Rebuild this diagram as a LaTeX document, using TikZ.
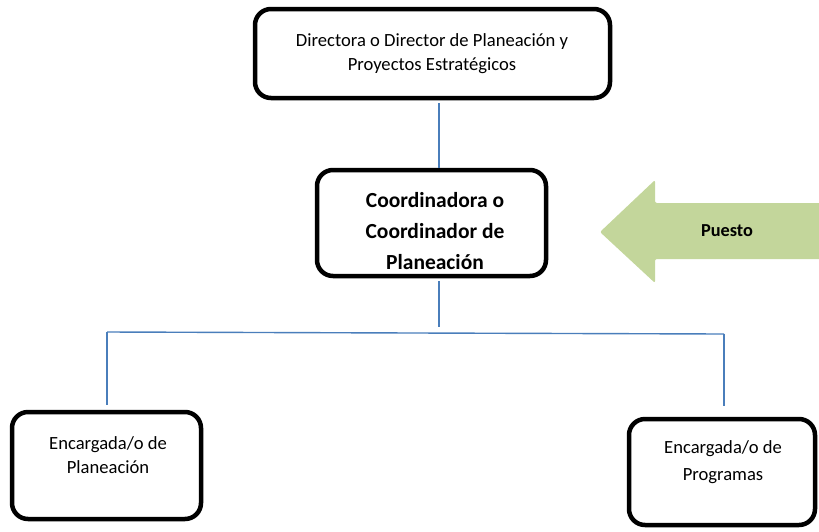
\documentclass[tikz,border=0pt]{standalone}
\usepackage{fontspec}
\setmainfont{Carlito}
\definecolor{boxline}{HTML}{000000}
\definecolor{connblue}{HTML}{4A7EBB}
\definecolor{arrowgreen}{HTML}{C3D69B}
\begin{document}
\begin{tikzpicture}[x=1pt,y=-1pt,
  orgbox/.style={draw=boxline, line width=4.5pt, rounded corners=16pt, fill=white},
  conn/.style={draw=connblue, line width=1.4pt},
  txt/.style={align=center, inner sep=0pt, font=\fontsize{18.6}{24}\selectfont},
  btxt/.style={align=center, inner sep=0pt, font=\fontsize{21.5}{31}\selectfont\bfseries}]
\useasboundingbox (0,0) rectangle (819,531);
% arrow
\fill[arrowgreen, rounded corners=2pt] (600,232) -- (655,180) -- (655,203) -- (830,203) -- (830,259) -- (655,259) -- (655,283) -- cycle;
\node[inner sep=0pt, font=\fontsize{18.3}{22}\selectfont\bfseries] (puesto) at (727,231) {Puesto};
% boxes
\node[orgbox, minimum width=355pt, minimum height=89pt, inner sep=0pt] (top) at (432.5,53.5) {};
\node[orgbox, minimum width=229pt, minimum height=106pt, inner sep=0pt] (mid) at (431.5,223) {};
\node[orgbox, minimum width=189pt, minimum height=107pt, inner sep=0pt] (left) at (106.5,465.5) {};
\node[orgbox, minimum width=186pt, minimum height=106pt, inner sep=0pt] (right) at (722,472) {};
% texts
\node[txt] (toptxt) at (432,53.5) {Directora o Director de Planeación y\\Proyectos Estratégicos};
\node[btxt] (midtxt) at (435,231) {Coordinadora o\\Coordinador de\\Planeación};
\node[txt] (lefttxt) at (108,455.5) {Encargada/o de\\Planeación};
\node[txt, font=\fontsize{18.6}{27}\selectfont] (righttxt) at (723,462) {Encargada/o de\\Programas};
% connectors
\coordinate (jx) at (439,333);
\coordinate (bl) at (107,332);
\coordinate (br) at (724,334);
\draw[conn, shorten <=3pt] (top.south -| jx) -- (mid.north -| jx);
\draw[conn, shorten <=3pt, shorten >=6pt] (mid.south -| jx) -- (jx);
\draw[conn] (bl) -- (br);
\draw[conn, shorten >=5pt] (bl) -- (bl |- left.north);
\draw[conn, shorten >=11pt] (br) -- (br |- right.north);
\end{tikzpicture}
\end{document}
